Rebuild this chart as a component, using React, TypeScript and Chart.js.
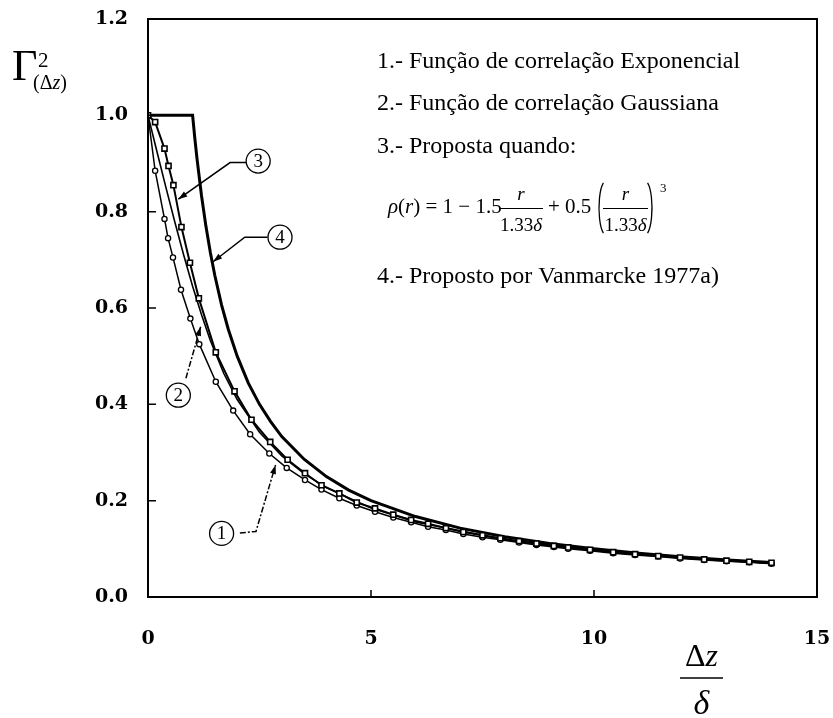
import React, { useEffect, useRef } from "react";
import { Chart, registerables } from "chart.js";
Chart.register(...registerables);

// Curve 1 - Exponencial (circles)
const expX = [0, 0.16, 0.37, 0.45, 0.56, 0.74, 0.95, 1.15, 1.52, 1.91, 2.29, 2.72, 3.11, 3.52, 3.89, 4.29, 4.68, 5.09, 5.5, 5.9, 6.28, 6.68, 7.07, 7.5, 7.9, 8.32, 8.71, 9.1, 9.42, 9.91, 10.43, 10.92, 11.44, 11.93, 12.47, 12.97, 13.48, 13.98];
const expY = [1, 0.885, 0.785, 0.745, 0.705, 0.638, 0.578, 0.525, 0.447, 0.387, 0.338, 0.298, 0.268, 0.243, 0.223, 0.205, 0.19, 0.177, 0.165, 0.155, 0.146, 0.139, 0.131, 0.124, 0.119, 0.113, 0.108, 0.104, 0.1, 0.096, 0.091, 0.087, 0.084, 0.08, 0.077, 0.074, 0.072, 0.069];

// Curve 2 - Gaussiana (plain line)
const gauX = [0, 0.2, 0.4, 0.6, 0.8, 1.0, 1.2, 1.4, 1.7, 2.0, 2.5, 3.0, 3.5, 4.0, 5.0, 6.0, 8.0, 10, 12, 13.98];
const gauY = [1, 0.925, 0.851, 0.779, 0.71, 0.645, 0.586, 0.532, 0.464, 0.41, 0.342, 0.293, 0.256, 0.227, 0.185, 0.156, 0.119, 0.096, 0.081, 0.07];

// Curve 3 - Proposta (squares)
const propX = [0, 0.16, 0.37, 0.46, 0.57, 0.75, 0.94, 1.14, 1.52, 1.94, 2.32, 2.74, 3.13, 3.52, 3.89, 4.29, 4.68, 5.09, 5.5, 5.9, 6.28, 6.68, 7.07, 7.5, 7.9, 8.32, 8.71, 9.1, 9.42, 9.91, 10.43, 10.92, 11.44, 11.93, 12.47, 12.97, 13.48, 13.98];
const propY = [1, 0.986, 0.931, 0.895, 0.855, 0.768, 0.694, 0.62, 0.508, 0.427, 0.368, 0.322, 0.285, 0.257, 0.232, 0.215, 0.196, 0.184, 0.171, 0.16, 0.152, 0.143, 0.135, 0.128, 0.122, 0.116, 0.111, 0.106, 0.103, 0.098, 0.093, 0.089, 0.085, 0.082, 0.078, 0.0755, 0.073, 0.071];

// Curve 4 - Vanmarcke 1977a
const vanX = [0, 1, 1.05, 1.1, 1.2, 1.3, 1.4, 1.5, 1.65, 1.8, 2, 2.25, 2.5, 2.75, 3, 3.5, 4, 4.5, 5, 6, 7, 8, 9, 10, 11, 12, 13, 13.98];
const vanY = [1, 1, 0.952, 0.909, 0.833, 0.769, 0.714, 0.667, 0.606, 0.556, 0.5, 0.444, 0.4, 0.364, 0.333, 0.286, 0.25, 0.222, 0.2, 0.167, 0.143, 0.125, 0.111, 0.1, 0.0909, 0.0833, 0.0769, 0.0715];

const xTicks = [0, 5, 10, 15];
const yTicks = [0, 0.2, 0.4, 0.6, 0.8, 1.0, 1.2];

const legendLines = [
  "1.- Função de correlação Exponencial",
  "2.- Função de correlação Gaussiana",
  "3.- Proposta quando:",
  "4.- Proposto por Vanmarcke 1977a)",
];

// callout labels: number, circle centre (data), leader path (data), dashed
const callouts = [
  { n: "3", c: [2.47, 0.905], path: [[2.2, 0.902], [1.84, 0.902], [0.68, 0.826]], dashed: false },
  { n: "4", c: [2.96, 0.747], path: [[2.68, 0.747], [2.17, 0.747], [1.46, 0.696]], dashed: false },
  { n: "2", c: [0.68, 0.419], path: [[0.85, 0.454], [1.18, 0.561]], dashed: true },
  { n: "1", c: [1.65, 0.132], path: [[2.06, 0.133], [2.42, 0.136], [2.86, 0.274]], dashed: true },
];

const pts = (xs: number[], ys: number[]) => xs.map((x, i) => ({ x, y: ys[i] }));

const SERIF = '"Liberation Serif", "Times New Roman", serif';
const TICKFONT = '"DejaVu Serif", serif';

const decorPlugin = {
  id: "decor",
  afterDraw(chart: any) {
    const ctx: CanvasRenderingContext2D = chart.ctx;
    const ca = chart.chartArea;
    const xs = chart.scales.x;
    const ys = chart.scales.y;
    ctx.save();
    ctx.strokeStyle = "#000";
    ctx.fillStyle = "#000";
    // frame
    ctx.lineWidth = 2;
    ctx.strokeRect(ca.left, ca.top, ca.right - ca.left, ca.bottom - ca.top);
    // inward ticks
    ctx.lineWidth = 1.5;
    ctx.beginPath();
    for (const v of yTicks) {
      if (v <= 0 || v >= 1.2) continue;
      const py = ys.getPixelForValue(v);
      ctx.moveTo(ca.left, py);
      ctx.lineTo(ca.left + 8, py);
    }
    for (const v of xTicks) {
      if (v <= 0 || v >= 15) continue;
      const px = xs.getPixelForValue(v);
      ctx.moveTo(px, ca.bottom);
      ctx.lineTo(px, ca.bottom - 7);
    }
    ctx.stroke();

    // callouts
    for (const c of callouts) {
      const cx = xs.getPixelForValue(c.c[0]);
      const cy = ys.getPixelForValue(c.c[1]);
      ctx.lineWidth = 1.3;
      ctx.setLineDash([]);
      ctx.beginPath();
      ctx.arc(cx, cy, 12, 0, Math.PI * 2);
      ctx.stroke();
      ctx.font = `19px ${SERIF}`;
      ctx.textAlign = "center";
      ctx.textBaseline = "middle";
      ctx.fillText(c.n, cx, cy + 1);
      const p = c.path.map((q) => [xs.getPixelForValue(q[0]), ys.getPixelForValue(q[1])]);
      ctx.lineWidth = 1.5;
      ctx.setLineDash(c.dashed ? [6, 2, 2, 2] : []);
      ctx.beginPath();
      ctx.moveTo(p[0][0], p[0][1]);
      for (let i = 1; i < p.length; i++) ctx.lineTo(p[i][0], p[i][1]);
      ctx.stroke();
      ctx.setLineDash([]);
      // arrowhead
      const a = p[p.length - 2];
      const b = p[p.length - 1];
      const ang = Math.atan2(b[1] - a[1], b[0] - a[0]);
      const L = 9, W = 3;
      ctx.beginPath();
      ctx.moveTo(b[0], b[1]);
      ctx.lineTo(b[0] - L * Math.cos(ang) + W * Math.sin(ang), b[1] - L * Math.sin(ang) - W * Math.cos(ang));
      ctx.lineTo(b[0] - L * Math.cos(ang) - W * Math.sin(ang), b[1] - L * Math.sin(ang) + W * Math.cos(ang));
      ctx.closePath();
      ctx.fill();
    }

    // legend text
    ctx.textAlign = "left";
    ctx.textBaseline = "alphabetic";
    ctx.font = `24px ${SERIF}`;
    const baselines = [68, 110, 153, 283];
    legendLines.forEach((t, i) => ctx.fillText(t, 377, baselines[i]));

    // formula
    const fs = 21;
    const up = `${fs}px ${SERIF}`;
    const it = `italic ${fs}px ${SERIF}`;
    let x = 388;
    const base = 213;
    const put = (s: string, f: string) => {
      ctx.font = f;
      const w = ctx.measureText(s).width;
      ctx.fillText(s, x, base);
      x += w;
    };
    put("ρ", it);
    put("(", up);
    put("r", it);
    put(") = 1 − 1.5", up);
    const frac = (x0: number, x1: number) => {
      const mid = (x0 + x1) / 2;
      ctx.lineWidth = 1.2;
      ctx.beginPath();
      ctx.moveTo(x0, 208.5);
      ctx.lineTo(x1, 208.5);
      ctx.stroke();
      ctx.textAlign = "center";
      ctx.font = `italic 19px ${SERIF}`;
      ctx.fillText("r", mid, 200);
      ctx.font = `19px ${SERIF}`;
      const w1 = ctx.measureText("1.33").width;
      ctx.font = `italic 19px ${SERIF}`;
      const w2 = ctx.measureText("δ").width;
      ctx.textAlign = "left";
      ctx.font = `19px ${SERIF}`;
      ctx.fillText("1.33", mid - (w1 + w2) / 2, 231);
      ctx.font = `italic 19px ${SERIF}`;
      ctx.fillText("δ", mid - (w1 + w2) / 2 + w1, 231);
    };
    frac(499, 543);
    ctx.textAlign = "left";
    ctx.font = up;
    ctx.fillText("+ 0.5", 548, base);
    // thin tall parentheses
    ctx.lineWidth = 1.3;
    ctx.beginPath();
    ctx.ellipse(606, 208, 7, 27, 0, Math.PI * 0.62, Math.PI * 1.38);
    ctx.stroke();
    ctx.beginPath();
    ctx.ellipse(645, 208, 7, 27, 0, -Math.PI * 0.38, Math.PI * 0.38);
    ctx.stroke();
    frac(603, 648);
    ctx.font = `13px ${SERIF}`;
    ctx.fillText("3", 660, 192);

    // y axis title Γ²(Δz)
    ctx.font = `44px ${SERIF}`;
    ctx.fillText("Γ", 12, 80);
    ctx.font = `21px ${SERIF}`;
    ctx.fillText("2", 38, 67);
    ctx.font = `20px ${SERIF}`;
    let tx = 33;
    ctx.fillText("(", tx, 89);
    tx += ctx.measureText("(").width;
    ctx.fillText("Δ", tx, 89);
    tx += ctx.measureText("Δ").width;
    ctx.font = `italic 20px ${SERIF}`;
    ctx.fillText("z", tx, 89);
    tx += ctx.measureText("z").width;
    ctx.font = `20px ${SERIF}`;
    ctx.fillText(")", tx, 89);

    // x axis title Δz / δ
    ctx.font = `32px ${SERIF}`;
    const wd = ctx.measureText("Δ").width;
    ctx.font = `italic 32px ${SERIF}`;
    const wz = ctx.measureText("z").width;
    const cxm = 701.5;
    ctx.font = `32px ${SERIF}`;
    ctx.fillText("Δ", cxm - (wd + wz) / 2, 666);
    ctx.font = `italic 32px ${SERIF}`;
    ctx.fillText("z", cxm - (wd + wz) / 2 + wd, 666);
    ctx.lineWidth = 1.5;
    ctx.beginPath();
    ctx.moveTo(680, 678);
    ctx.lineTo(723, 678);
    ctx.stroke();
    ctx.font = `italic 34px ${SERIF}`;
    ctx.textAlign = "center";
    ctx.fillText("δ", cxm, 714);
    ctx.restore();
  },
};

export default function App() {
  const ref = useRef<HTMLCanvasElement | null>(null);
  useEffect(() => {
    if (!ref.current) return;
    const chart = new Chart(ref.current, {
      type: "scatter",
      data: {
        datasets: [
          {
            label: "3.- Proposta",
            data: pts(propX, propY),
            showLine: true,
            borderColor: "#000",
            borderWidth: 2,
            pointStyle: "rect",
            pointRadius: 3.6,
            pointBackgroundColor: "#fff",
            pointBorderColor: "#000",
            pointBorderWidth: 1.6,
            tension: 0,
          },
          {
            label: "1.- Exponencial",
            data: pts(expX, expY),
            showLine: true,
            borderColor: "#000",
            borderWidth: 1.5,
            pointStyle: "circle",
            pointRadius: 2.6,
            pointBackgroundColor: "#fff",
            pointBorderColor: "#000",
            pointBorderWidth: 1.3,
            tension: 0,
          },
          {
            label: "2.- Gaussiana",
            data: pts(gauX, gauY),
            showLine: true,
            borderColor: "#000",
            borderWidth: 1.6,
            pointRadius: 0,
            tension: 0,
          },
          {
            label: "4.- Vanmarcke 1977a",
            data: pts(vanX, vanY),
            showLine: true,
            borderColor: "#000",
            borderWidth: 3,
            pointRadius: 0,
            tension: 0,
          },
        ],
      },
      options: {
        animation: false,
        responsive: true,
        maintainAspectRatio: false,
        layout: { autoPadding: false, padding: { top: 19, right: 16, left: 0, bottom: 0 } },
        plugins: { legend: { display: false }, tooltip: { enabled: false } },
        scales: {
          x: {
            type: "linear",
            min: 0,
            max: 15,
            grid: { display: false, drawTicks: false },
            border: { display: false },
            afterFit: (s: any) => {
              s.height = 121;
              s.paddingLeft = 0;
              s.paddingRight = 0;
              s.paddingTop = 0;
              s.paddingBottom = 0;
            },
            afterBuildTicks: (s: any) => { s.ticks = xTicks.map((v) => ({ value: v })); },
            ticks: {
              color: "#000",
              padding: 31,
              font: { family: TICKFONT, size: 19, weight: "bold" },
              callback: (v: any) => String(v),
              maxRotation: 0,
            },
          },
          y: {
            type: "linear",
            min: 0,
            max: 1.2,
            grid: { display: false, drawTicks: false },
            border: { display: false },
            afterFit: (s: any) => {
              s.width = 148;
              s.paddingLeft = 0;
              s.paddingRight = 0;
              s.paddingTop = 0;
              s.paddingBottom = 0;
            },
            afterBuildTicks: (s: any) => { s.ticks = yTicks.map((v) => ({ value: v })); },
            ticks: {
              color: "#000",
              padding: 20,
              font: { family: TICKFONT, size: 19, weight: "bold" },
              callback: (v: any) => Number(v).toFixed(1),
            },
          },
        },
      },
      plugins: [decorPlugin],
    });
    return () => chart.destroy();
  }, []);
  return (
    <div style={{ position: "fixed", left: 0, top: 0, width: 833, height: 718, background: "#fff" }}>
      <canvas ref={ref} />
    </div>
  );
}
